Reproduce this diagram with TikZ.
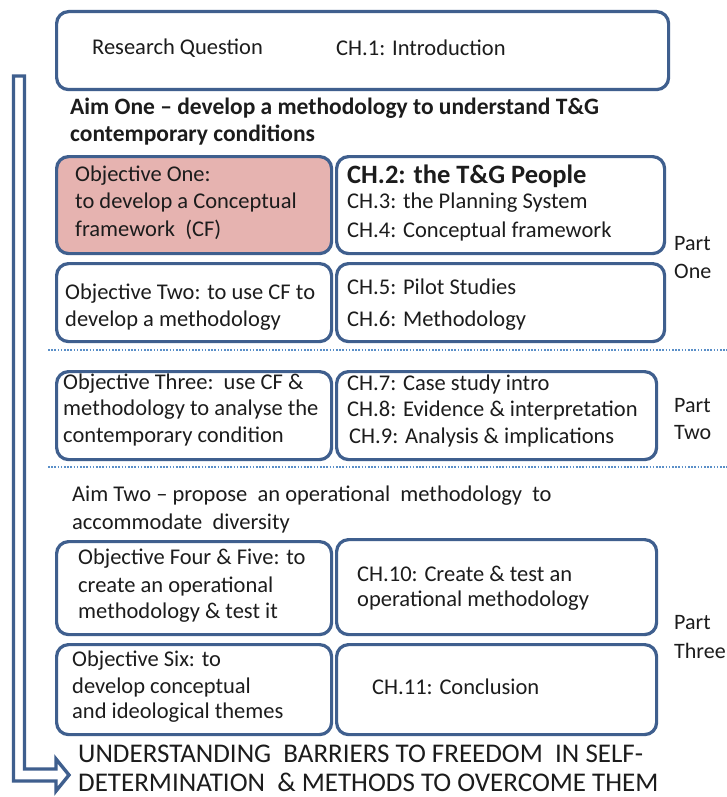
\documentclass[tikz,border=0pt]{standalone}
\usepackage{fontspec}
\setmainfont{Carlito}
\begin{document}
\definecolor{boxblue}{HTML}{3F5F8E}
\definecolor{pinkfill}{HTML}{E6B3B0}
\definecolor{dotblue}{HTML}{5A8FC8}
\definecolor{ink}{HTML}{1C1C1C}
\begin{tikzpicture}[x=1pt,y=-1pt,
  box/.style={draw=boxblue,line width=3.2pt,rounded corners=12pt,anchor=north west,inner sep=0pt},
  txt/.style={anchor=west,inner sep=0pt,text=ink,font=\fontsize{22.5}{27}\selectfont},
  bold/.style={txt,font=\fontsize{23.5}{27}\selectfont\bfseries},
  big/.style={txt,font=\fontsize{26.5}{30}\selectfont\bfseries},
  part/.style={txt,font=\fontsize{22}{26}\selectfont},
  outcome/.style={txt,font=\fontsize{27}{31}\selectfont},
  sep/.style={draw=dotblue,line width=2.2pt,dash pattern=on 1.6pt off 1.6pt}]
\useasboundingbox[fill=white] (0,0) rectangle (727,797);

% header box
\node[box,minimum width=612pt,minimum height=78pt] (top) at (55,10) {};
\node[txt] (rq) at (92,48) {Research Question};
\node[txt] (ch1) at (336,48) {CH.1: Introduction};

% first aim
\node[bold] (aim1a) at (70,108) {Aim One -- develop a methodology to understand T\&G};
\node[bold] (aim1b) at (70,135) {contemporary conditions};

% part one
\node[box,fill=pinkfill,minimum width=275pt,minimum height=97pt] (o1) at (55,155) {};
\node[txt] (o1a) at (75,176) {Objective One:};
\node[txt] (o1b) at (75,203) {to develop a Conceptual};
\node[txt] (o1c) at (75,230) {framework\ \ (CF)};
\node[box,minimum width=328pt,minimum height=97pt] (c2) at (335,155) {};
\node[big] (c2a) at (347,176) {CH.2: the T\&G People};
\node[txt] (c2b) at (347,203) {CH.3: the Planning System};
\node[txt] (c2c) at (347,232) {CH.4: Conceptual framework};

\node[box,minimum width=275pt,minimum height=78pt] (o2) at (55,262) {};
\node[txt] (o2a) at (65,294) {Objective Two: to use CF to};
\node[txt] (o2b) at (65,321) {develop a methodology};
\node[box,minimum width=328pt,minimum height=78pt] (c5) at (335,262) {};
\node[txt] (c5a) at (347,287) {CH.5: Pilot Studies};
\node[txt] (c5b) at (347,321) {CH.6: Methodology};

\node[part] (p1a) at (674,244) {Part};
\node[part] (p1b) at (674,271) {One};

\coordinate (s1l) at (48,350);
\coordinate (s1r) at (727,350);
\draw[sep] (s1l) -- (s1r);

% part two
\node[box,minimum width=275pt,minimum height=88pt] (o3) at (55,370) {};
\node[txt] (o3a) at (63,384) {Objective Three:\ \ use CF \&};
\node[txt] (o3b) at (63,410) {methodology to analyse the};
\node[txt] (o3c) at (63,436) {contemporary condition};
\node[box,minimum width=320pt,minimum height=88pt] (c7) at (335,370) {};
\node[txt] (c7a) at (347,384) {CH.7: Case study intro};
\node[txt] (c7b) at (347,410) {CH.8: Evidence \& interpretation};
\node[txt] (c7c) at (349,437) {CH.9: Analysis \& implications};

\node[part] (p2a) at (674,406) {Part};
\node[part] (p2b) at (674,433) {Two};

\coordinate (s2l) at (48,467);
\coordinate (s2r) at (727,467);
\draw[sep] (s2l) -- (s2r);

% second aim
\node[txt] (aim2a) at (72,496) {Aim Two -- propose\ \ an operational\ \ methodology\ \ to};
\node[txt] (aim2b) at (72,523) {accommodate\ \ diversity};

% part three
\node[box,minimum width=275pt,minimum height=93pt] (o4) at (55,540) {};
\node[txt] (o4a) at (78,559) {Objective Four \& Five: to};
\node[txt] (o4b) at (78,586) {create an operational};
\node[txt] (o4c) at (78,613) {methodology \& test it};
\node[box,minimum width=320pt,minimum height=95pt] (c10) at (335,538) {};
\node[txt] (c10a) at (357,574) {CH.10: Create \& test an};
\node[txt] (c10b) at (357,601) {operational methodology};

\node[box,minimum width=275pt,minimum height=90pt] (o6) at (55,643) {};
\node[txt] (o6a) at (72,661) {Objective Six: to};
\node[txt] (o6b) at (72,687) {develop conceptual};
\node[txt] (o6c) at (72,713) {and ideological themes};
\node[box,minimum width=320pt,minimum height=90pt] (c11) at (335,643) {};
\node[txt] (c11a) at (372,687) {CH.11: Conclusion};

\node[part] (p3a) at (674,623) {Part};
\node[part] (p3b) at (674,651) {Three};

% outcome
\node[outcome] (out1) at (78,754) {UNDERSTANDING\ \ BARRIERS TO FREEDOM\ \ IN SELF-};
\node[outcome] (out2) at (78,782) {DETERMINATION\ \ \& METHODS TO OVERCOME THEM};

% hollow block arrow running down the left side into the outcome
\draw[boxblue,line width=3.4pt,fill=white,line join=miter]
  (13.5,76) -- (24.5,76) -- (24.5,769) -- (56,769) -- (56,759) -- (69,775)
  -- (56,791) -- (56,781) -- (13.5,781) -- cycle;
\end{tikzpicture}
\end{document}
